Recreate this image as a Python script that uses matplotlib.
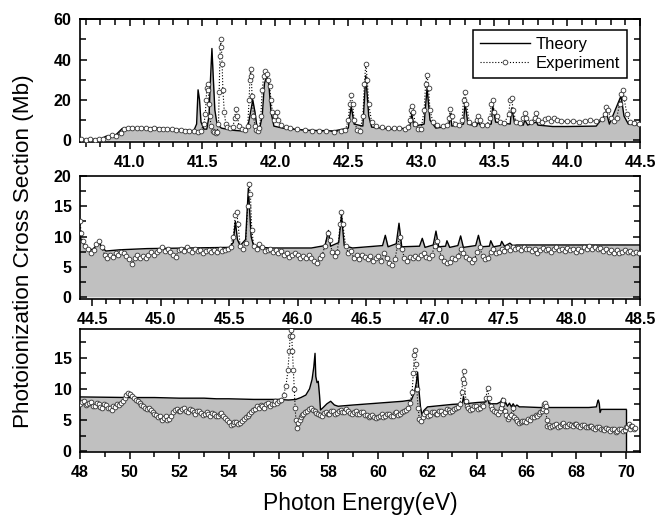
import matplotlib
matplotlib.use("Agg")
import matplotlib.pyplot as plt
from matplotlib.lines import Line2D
from matplotlib.ticker import MultipleLocator

plt.rcParams["font.family"] = ["Liberation Sans", "DejaVu Sans"]

# ---- panel 1: 40.66 - 44.5 eV ----
theory1_e = [40.66, 40.80, 40.84, 40.90, 40.95, 41.00, 41.20, 41.40, 41.44, 41.46, 41.47, 41.48,
             41.49, 41.51, 41.53, 41.545, 41.555, 41.565, 41.575, 41.585, 41.60, 41.63, 41.70,
             41.78, 41.81, 41.83, 41.845, 41.86, 41.875, 41.89, 41.91, 41.925, 41.94, 41.955,
             41.97, 41.99, 42.05, 42.20, 42.40, 42.50, 42.52, 42.54, 42.60, 42.62, 42.64, 42.66,
             42.80, 42.92, 42.935, 42.95, 43.02, 43.04, 43.06, 43.10, 43.19, 43.20, 43.21, 43.29,
             43.30, 43.32, 43.38, 43.39, 43.41, 43.48, 43.49, 43.51, 43.61, 43.62, 43.64, 43.70,
             43.71, 43.73, 43.79, 43.80, 43.90, 44.00, 44.20, 44.27, 44.29, 44.37, 44.39, 44.42,
             44.50]
theory1_v = [0.4, 0.5, 2.0, 2.2, 5.8, 6.3, 6.0, 5.0, 4.6, 8, 25, 20,
             9, 5.5, 5.5, 12, 30, 45.5, 30, 15, 8, 6, 5,
             4.5, 6, 14, 20, 14, 6, 5, 12, 28, 32, 28,
             14, 7, 6, 5, 4.6, 6, 17, 8, 7, 32, 12, 6.5,
             5.5, 6, 13, 7, 8, 26, 10, 6, 7, 13, 7, 8,
             19, 8, 7, 9, 7, 8, 17, 9, 8, 16, 8.5, 7.5,
             10, 7.5, 9, 7.5, 6.8, 6.8, 7.0, 13.5, 8, 22, 12, 8.0,
             7.5]

exp1_e = [40.67, 40.70, 40.73, 40.76, 40.79, 40.82, 40.85, 40.88, 40.91, 40.94, 40.96, 40.99,
          41.02, 41.05, 41.08, 41.11, 41.14, 41.17, 41.20, 41.23, 41.26, 41.29, 41.32, 41.35,
          41.38, 41.41, 41.44, 41.47, 41.49, 41.51, 41.52, 41.525, 41.53, 41.535, 41.54, 41.545,
          41.55, 41.56, 41.57, 41.58, 41.59, 41.60, 41.61, 41.615, 41.62, 41.625, 41.63, 41.635,
          41.64, 41.65, 41.66, 41.67, 41.69, 41.71, 41.72, 41.73, 41.74, 41.75, 41.77, 41.79,
          41.81, 41.82, 41.825, 41.83, 41.835, 41.84, 41.85, 41.86, 41.87, 41.88, 41.89, 41.90,
          41.91, 41.92, 41.93, 41.94, 41.95, 41.96, 41.97, 41.98, 41.99, 42.00, 42.01, 42.02,
          42.04, 42.07, 42.10, 42.15, 42.20, 42.25, 42.30, 42.35, 42.40, 42.45, 42.48, 42.50,
          42.51, 42.52, 42.53, 42.54, 42.56, 42.58, 42.60, 42.61, 42.62, 42.63, 42.64, 42.66,
          42.69, 42.73, 42.77, 42.81, 42.85, 42.89, 42.91, 42.92, 42.93, 42.935, 42.945, 42.96,
          42.98, 43.00, 43.02, 43.03, 43.04, 43.05, 43.06, 43.08, 43.11, 43.15, 43.18, 43.19,
          43.20, 43.21, 43.23, 43.26, 43.28, 43.29, 43.30, 43.31, 43.33, 43.36, 43.38, 43.39,
          43.40, 43.42, 43.45, 43.47, 43.48, 43.49, 43.50, 43.52, 43.54, 43.57, 43.60, 43.61,
          43.62, 43.63, 43.65, 43.68, 43.70, 43.71, 43.72, 43.75, 43.78, 43.79, 43.80, 43.83,
          43.85, 43.87, 43.89, 43.91, 43.93, 43.96, 44.00, 44.04, 44.08, 44.12, 44.16, 44.20,
          44.24, 44.26, 44.27, 44.28, 44.30, 44.32, 44.34, 44.36, 44.37, 44.38, 44.39, 44.41,
          44.43, 44.46, 44.49]
exp1_v = [0.4, 0.3, 0.4, 0.3, 0.4, 0.6, 1.5, 2.5, 2.2, 3.5, 5.5, 6.2,
          6.0, 6.2, 5.9, 6.0, 5.8, 5.9, 5.6, 5.7, 5.4, 5.5, 5.2, 5.0,
          4.8, 4.6, 4.5, 4.2, 4.8, 8, 13, 20, 26, 28, 25, 18,
          12, 7, 4.5, 4, 3.5, 4.2, 8, 24, 42, 50, 46, 38,
          25, 14, 8, 6.5, 6, 6.5, 11, 15.5, 12, 7, 5.5, 5,
          7, 20, 30, 35.5, 32, 22, 12, 7, 5, 4.5, 6, 12,
          25, 32, 34.5, 33, 30, 27, 20, 14, 10, 12, 14, 10,
          7.5, 6.5, 6, 5.5, 5.0, 4.8, 4.6, 4.5, 4.3, 4.5, 5, 10,
          18, 22.5, 18, 10, 5, 4.5, 12, 28, 38, 30, 18, 9,
          7, 6.5, 6.3, 6.2, 6.0, 5.8, 6.5, 10, 15, 17, 14, 8,
          5.5, 5.8, 15, 28, 32.5, 26, 15, 9, 7.5, 7, 7.5, 11,
          15.5, 12, 8, 7.5, 10, 20, 24, 18, 9, 8, 10, 12,
          10, 7.5, 7.5, 11, 18, 20, 14, 12, 9, 8.5, 13, 20,
          21, 15, 9, 8.5, 11, 13.4, 11, 9, 11, 13.5, 10, 9,
          10.5, 11, 9.5, 11, 10, 9.5, 9.3, 9.5, 9.2, 9.6, 9.8, 9.5,
          10.5, 13, 16.5, 15, 11, 9.5, 11, 18, 23, 25, 21, 13,
          9, 8.5, 8]

# ---- panel 2: 44.41 - 48.5 eV ----
theory2_e = [44.41, 44.43, 44.46, 44.50, 44.53, 44.55, 44.57, 44.60, 44.70, 44.90, 45.20, 45.50,
             45.53, 45.545, 45.56, 45.58, 45.62, 45.64, 45.66, 45.68, 45.80, 46.10, 46.20, 46.225,
             46.24, 46.30, 46.32, 46.34, 46.40, 46.62, 46.64, 46.66, 46.72, 46.74, 46.76, 46.89,
             46.91, 46.93, 46.99, 47.01, 47.03, 47.08, 47.09, 47.11, 47.17, 47.19, 47.21, 47.30,
             47.32, 47.34, 47.40, 47.41, 47.43, 47.48, 47.49, 47.51, 47.55, 47.57, 47.60, 48.50]
theory2_v = [10.0, 9.0, 8.2, 7.8, 8.5, 9.0, 8.2, 7.6, 7.8, 8.0, 8.1, 8.2,
             9, 12.5, 9.5, 8.5, 9.5, 18, 10, 8.3, 8.1, 8.1, 8.5, 11,
             8.4, 9, 13.5, 8.5, 8.1, 8.5, 10.2, 8.3, 8.8, 12.2, 8.3, 8.4,
             9.7, 8.2, 8.6, 10.9, 8.3, 8.4, 9.3, 8.2, 8.5, 10.1, 8.2, 8.5,
             10.2, 8.3, 8.4, 9.3, 8.3, 8.5, 9.2, 8.4, 8.9, 8.5, 8.6, 8.6]

exp2_e = [44.41, 44.42, 44.43, 44.45, 44.47, 44.49, 44.51, 44.53, 44.55, 44.57, 44.59, 44.61,
          44.63, 44.65, 44.67, 44.69, 44.71, 44.73, 44.75, 44.77, 44.79, 44.81, 44.83, 44.85,
          44.87, 44.89, 44.91, 44.93, 44.95, 44.97, 44.99, 45.01, 45.03, 45.05, 45.07, 45.09,
          45.11, 45.13, 45.15, 45.17, 45.19, 45.21, 45.23, 45.25, 45.27, 45.29, 45.31, 45.33,
          45.35, 45.37, 45.39, 45.41, 45.43, 45.45, 45.47, 45.49, 45.51, 45.53, 45.545, 45.555,
          45.565, 45.58, 45.60, 45.62, 45.635, 45.645, 45.655, 45.665, 45.68, 45.70, 45.72, 45.74,
          45.76, 45.78, 45.80, 45.82, 45.84, 45.86, 45.88, 45.90, 45.92, 45.94, 45.96, 45.98,
          46.00, 46.02, 46.04, 46.06, 46.08, 46.10, 46.12, 46.14, 46.16, 46.18, 46.20, 46.22,
          46.235, 46.25, 46.27, 46.29, 46.31, 46.32, 46.33, 46.35, 46.37, 46.39, 46.41, 46.43,
          46.45, 46.47, 46.49, 46.51, 46.53, 46.55, 46.57, 46.59, 46.61, 46.63, 46.65, 46.67,
          46.69, 46.71, 46.73, 46.745, 46.76, 46.78, 46.80, 46.82, 46.84, 46.86, 46.88, 46.90,
          46.92, 46.94, 46.96, 46.98, 47.00, 47.015, 47.03, 47.05, 47.07, 47.09, 47.11, 47.13,
          47.15, 47.17, 47.19, 47.21, 47.23, 47.25, 47.27, 47.29, 47.31, 47.33, 47.35, 47.37,
          47.39, 47.41, 47.43, 47.45, 47.47, 47.49, 47.51, 47.53, 47.55, 47.57, 47.59, 47.61,
          47.63, 47.65, 47.67, 47.69, 47.71, 47.73, 47.75, 47.77, 47.79, 47.81, 47.83, 47.85,
          47.87, 47.89, 47.91, 47.93, 47.95, 47.97, 47.99, 48.01, 48.03, 48.05, 48.07, 48.09,
          48.11, 48.13, 48.15, 48.17, 48.19, 48.21, 48.23, 48.25, 48.27, 48.29, 48.31, 48.33,
          48.35, 48.37, 48.39, 48.41, 48.43, 48.45, 48.47, 48.49]
exp2_v = [12.5, 10.5, 9.2, 8.5, 8.0, 7.2, 7.8, 8.8, 9.2, 8.2, 7.0, 6.5,
          7.0, 6.6, 7.2, 7.0, 7.5, 7.2, 6.8, 6.2, 5.5, 6.5, 7.0, 6.5,
          6.8, 6.4, 7.0, 7.4, 7.0, 7.5, 7.8, 8.2, 7.6, 7.9, 7.5, 7.0,
          6.6, 7.8, 8.0, 7.6, 8.2, 7.7, 7.4, 8.0, 7.6, 7.8, 7.3, 7.6,
          7.8, 7.4, 7.7, 7.5, 7.9, 7.6, 7.8, 8.0, 8.3, 10, 13.5, 14,
          12, 8.5, 8.0, 9.0, 15, 18.7, 17, 11, 8.5, 8.0, 8.8, 8.2,
          7.6, 7.8, 8.0, 7.4, 7.7, 7.3, 7.6, 7.0, 7.2, 6.6, 6.9, 7.3,
          7.0, 6.5, 6.8, 6.4, 6.9, 6.5, 6.0, 5.6, 6.5, 7.0, 8.5, 10.5,
          9.5, 7.5, 6.8, 7.5, 12, 14, 12, 8.5, 7.2, 7.6, 6.4, 6.9,
          6.2, 7.0, 6.6, 6.2, 6.8, 6.0, 6.5, 6.8, 6.0, 7.2, 6.5, 5.6,
          5.3, 6.2, 8.5, 10, 8, 6.4, 6.0, 6.6, 6.4, 6.8, 6.5, 7.0,
          7.2, 6.6, 6.5, 7.0, 8.4, 9.2, 8, 6.6, 6.0, 5.6, 5.8, 6.4,
          6.2, 6.7, 8.0, 7.2, 6.6, 6.3, 5.8, 6.2, 7.5, 8.2, 6.8, 6.2,
          6.5, 7.5, 8.0, 7.2, 7.4, 8.0, 7.6, 8.2, 7.8, 8.3, 7.9, 8.1,
          7.7, 8.2, 7.9, 8.0, 7.6, 7.9, 7.3, 7.8, 8.1, 7.7, 8.0, 7.4,
          7.9, 8.2, 7.8, 8.0, 7.6, 8.1, 7.7, 8.0, 7.5, 7.9, 7.6, 8.2,
          7.9, 8.4, 8.0, 8.3, 7.9, 8.1, 7.6, 7.9, 7.5, 7.8, 7.3, 7.7,
          7.2, 7.5, 7.8, 7.4, 7.6, 7.2, 7.5, 7.3]

# ---- panel 3: 48 - 70.5 eV ----
theory3_e = [48.0, 49.0, 50.0, 51.0, 52.0, 53.0, 53.5, 54.0, 55.0, 56.0, 56.4, 56.7,
             56.9, 57.1, 57.25, 57.35, 57.42, 57.47, 57.50, 57.55, 57.60, 57.65, 57.69, 57.8,
             57.95, 58.1, 58.25, 58.4, 59.0, 60.0, 61.0, 61.35, 61.48, 61.55, 61.60, 61.65,
             61.72, 61.78, 61.85, 62.0, 62.5, 63.0, 63.4, 63.45, 63.5, 64.0, 64.35, 64.42,
             64.48, 64.8, 64.95, 65.02, 65.08, 65.15, 65.22, 65.3, 65.38, 65.45, 65.52, 65.6,
             65.7, 65.85, 66.5, 67.5, 68.5, 68.8, 68.85, 68.88, 68.92, 68.95, 69.0, 69.5,
             70.0]
theory3_v = [8.7, 8.65, 8.6, 8.6, 8.5, 8.5, 8.4, 8.4, 8.3, 8.3, 8.2, 8.3,
             8.6, 9.0, 10, 11.5, 13.5, 15.7, 12, 11, 11.2, 9, 6.6, 7.0,
             7.6, 8.0, 7.4, 7.2, 7.4, 7.7, 8.0, 8.2, 9.5, 11, 12.7, 10,
             7, 5.8, 6.5, 7.1, 7.3, 7.5, 7.6, 8.8, 7.6, 7.8, 7.9, 8.6,
             7.6, 7.6, 7.9, 8.5, 7.3, 7.8, 7.2, 7.7, 7.1, 7.6, 7.1, 7.4,
             7.1, 7.1, 7.0, 7.0, 7.0, 7.1, 7.9, 8.2, 7.6, 6.2, 6.7, 6.7,
             6.7]

# (energy, cross section) pairs
exp3_points = [
    (48.00, 7.6), (48.075, 7.9), (48.15, 8.0), (48.225, 7.4), (48.30, 7.5), (48.375, 7.8),
    (48.45, 7.9), (48.525, 7.2), (48.60, 7.3), (48.675, 7.7), (48.75, 7.6), (48.825, 7.1),
    (48.90, 7.0), (48.975, 7.5), (49.05, 7.4), (49.125, 7.0), (49.20, 6.9), (49.275, 6.6),
    (49.35, 7.3), (49.425, 7.1), (49.50, 7.6), (49.575, 7.4), (49.65, 7.8), (49.725, 8.0),
    (49.80, 8.5), (49.875, 9.0), (49.95, 9.3), (50.025, 9.1), (50.10, 8.9), (50.175, 8.5),
    (50.25, 8.2), (50.325, 8.0), (50.40, 7.8), (50.475, 7.4), (50.55, 7.3), (50.625, 7.0),
    (50.70, 6.8), (50.775, 6.9), (50.85, 6.6), (50.925, 6.3), (51.00, 6.0), (51.075, 5.8),
    (51.15, 5.4), (51.225, 5.6), (51.30, 5.0), (51.375, 5.3), (51.45, 5.6), (51.525, 5.0),
    (51.60, 5.1), (51.675, 5.7), (51.75, 6.2), (51.825, 6.6), (51.90, 6.8), (51.975, 6.4),
    (52.05, 6.5), (52.125, 6.8), (52.20, 6.9), (52.275, 6.5), (52.35, 6.3), (52.425, 6.7),
    (52.50, 6.6), (52.575, 6.2), (52.65, 6.0), (52.725, 6.5), (52.80, 6.4), (52.875, 6.1),
    (52.95, 5.8), (53.025, 6.0), (53.10, 6.2), (53.175, 5.9), (53.25, 5.7), (53.325, 6.1),
    (53.40, 6.0), (53.475, 5.7), (53.55, 5.6), (53.625, 5.9), (53.70, 6.1), (53.775, 5.6),
    (53.85, 5.3), (53.925, 5.0), (54.00, 4.6), (54.075, 4.2), (54.15, 4.3), (54.225, 4.7),
    (54.30, 4.6), (54.375, 4.3), (54.45, 4.5), (54.525, 4.9), (54.60, 5.2), (54.675, 5.4),
    (54.75, 5.6), (54.825, 5.9), (54.90, 6.2), (54.975, 6.6), (55.05, 6.8), (55.125, 7.2),
    (55.20, 7.0), (55.275, 7.4), (55.35, 7.3), (55.425, 7.0), (55.50, 7.5), (55.575, 7.7),
    (55.65, 7.2), (55.725, 7.5), (55.80, 7.6), (55.875, 8.0), (55.95, 7.8), (56.025, 8.1),
    (56.10, 8.2), (56.20, 9.0), (56.30, 10.5), (56.38, 13.0), (56.43, 16.0), (56.47, 18.5),
    (56.50, 19.5), (56.53, 18.5), (56.56, 16.0), (56.60, 13.0), (56.63, 10.0), (56.67, 7.0),
    (56.70, 5.0), (56.74, 3.7), (56.80, 4.5), (56.85, 5.0), (56.90, 5.5), (56.95, 5.8),
    (57.00, 6.0), (57.075, 6.3), (57.15, 6.5), (57.225, 6.8), (57.30, 6.9), (57.375, 6.6),
    (57.45, 6.4), (57.525, 6.1), (57.60, 6.0), (57.675, 5.8), (57.75, 5.7), (57.825, 6.1),
    (57.90, 6.3), (57.975, 5.9), (58.05, 6.0), (58.125, 6.4), (58.20, 6.5), (58.275, 6.0),
    (58.35, 6.1), (58.425, 6.5), (58.50, 6.6), (58.575, 6.3), (58.65, 6.2), (58.725, 6.7),
    (58.80, 6.5), (58.875, 6.1), (58.95, 6.0), (59.025, 6.3), (59.10, 6.4), (59.175, 6.0),
    (59.25, 5.9), (59.325, 6.3), (59.40, 6.2), (59.475, 5.8), (59.55, 5.8), (59.625, 5.5),
    (59.70, 5.6), (59.775, 5.8), (59.85, 5.4), (59.925, 5.3), (60.00, 5.5), (60.075, 5.7),
    (60.15, 5.9), (60.225, 5.5), (60.30, 5.6), (60.375, 6.0), (60.45, 6.0), (60.525, 5.6),
    (60.60, 5.7), (60.675, 6.1), (60.75, 6.2), (60.825, 5.8), (60.90, 6.0), (60.975, 6.3),
    (61.05, 6.5), (61.125, 6.6), (61.20, 7.0), (61.30, 7.8), (61.38, 9.5), (61.43, 12.5),
    (61.47, 15.5), (61.50, 16.3), (61.53, 14.0), (61.57, 10.0), (61.62, 7.0), (61.67, 5.2),
    (61.72, 4.8), (61.80, 5.5), (61.875, 5.9), (61.95, 6.2), (62.025, 5.7), (62.10, 5.8),
    (62.175, 6.2), (62.25, 6.3), (62.325, 5.9), (62.40, 6.0), (62.475, 6.5), (62.55, 6.4),
    (62.625, 6.0), (62.70, 6.2), (62.775, 6.7), (62.85, 6.6), (62.925, 6.2), (63.00, 6.4),
    (63.075, 6.8), (63.15, 6.9), (63.225, 7.1), (63.30, 7.5), (63.38, 9.5), (63.42, 11.5),
    (63.45, 12.8), (63.49, 11.0), (63.55, 8.0), (63.60, 7.2), (63.65, 7.0), (63.725, 6.6),
    (63.80, 6.8), (63.875, 7.3), (63.95, 7.2), (64.025, 6.8), (64.10, 7.0), (64.175, 7.4),
    (64.25, 7.3), (64.35, 8.5), (64.42, 10.1), (64.48, 8.5), (64.54, 7.2), (64.60, 6.8),
    (64.675, 6.4), (64.75, 6.2), (64.825, 6.0), (64.90, 6.5), (64.95, 7.0), (65.00, 7.5),
    (65.05, 8.2), (65.12, 6.5), (65.18, 5.8), (65.25, 5.2), (65.30, 5.5), (65.35, 5.8),
    (65.43, 7.0), (65.50, 5.5), (65.55, 5.1), (65.60, 4.9), (65.675, 4.5), (65.75, 4.6),
    (65.825, 4.9), (65.90, 4.8), (65.975, 4.7), (66.05, 5.2), (66.125, 5.0), (66.20, 5.5),
    (66.275, 5.4), (66.35, 5.8), (66.425, 5.6), (66.50, 6.0), (66.55, 6.2), (66.60, 6.4),
    (66.64, 6.8), (66.68, 7.2), (66.71, 7.5), (66.74, 7.7), (66.76, 7.3), (66.78, 6.5),
    (66.80, 5.0), (66.82, 4.0), (66.875, 4.2), (66.95, 3.8), (67.025, 4.0), (67.10, 4.2),
    (67.175, 4.4), (67.25, 3.9), (67.325, 4.1), (67.40, 4.3), (67.475, 4.5), (67.55, 4.1),
    (67.625, 4.0), (67.70, 4.4), (67.775, 4.2), (67.85, 4.0), (67.925, 4.4), (68.00, 4.3),
    (68.075, 4.1), (68.15, 3.9), (68.225, 4.2), (68.30, 4.2), (68.375, 3.9), (68.45, 3.8),
    (68.525, 4.1), (68.60, 4.0), (68.675, 3.7), (68.75, 3.6), (68.825, 3.9), (68.90, 3.9),
    (68.975, 3.6), (69.05, 3.5), (69.125, 3.4), (69.20, 3.7), (69.275, 3.5), (69.35, 3.3),
    (69.425, 3.6), (69.50, 3.5), (69.575, 3.1), (69.65, 3.2), (69.725, 3.5), (69.80, 3.6),
    (69.875, 3.3), (69.95, 3.4), (70.00, 3.8), (70.05, 3.9), (70.10, 4.3), (70.15, 3.6),
    (70.20, 4.1), (70.25, 4.0), (70.30, 3.5), (70.35, 3.7),
]
exp3_e = [p[0] for p in exp3_points]
exp3_v = [p[1] for p in exp3_points]

FILL = "#c0c0c0"


def draw_spectrum(ax, theory_e, theory_v, exp_e, exp_v, drop_end=False):
    ax.fill_between(theory_e, 0, theory_v, color=FILL, lw=0, zorder=1)
    ax.plot(theory_e, theory_v, color="black", lw=1.0, zorder=2)
    if drop_end:
        ax.vlines(theory_e[-1], 0, theory_v[-1], color="black", lw=1.0, zorder=2)
    ax.plot(exp_e, exp_v, ls=":", color="black", lw=0.8, marker="o", ms=3.4,
            mfc="white", mec="#333333", mew=0.6, zorder=3)


def style_axis(ax, xlim, ylim, xmaj, xmin, ymaj, ymin, yticks, top_ticks=False):
    ax.set_xlim(*xlim)
    ax.set_ylim(*ylim)
    ax.xaxis.set_major_locator(MultipleLocator(xmaj))
    ax.xaxis.set_minor_locator(MultipleLocator(xmin))
    ax.yaxis.set_major_locator(MultipleLocator(ymaj))
    ax.yaxis.set_minor_locator(MultipleLocator(ymin))
    ax.set_yticks(yticks)
    for s in ax.spines.values():
        s.set_linewidth(1.2)
    ax.tick_params(axis="x", which="both", direction="out", top=False, width=1.1,
                   labelsize=11.5, pad=4)
    ax.tick_params(axis="x", which="major", length=5)
    ax.tick_params(axis="x", which="minor", length=3.5)
    ax.tick_params(axis="y", which="both", direction="in", left=True, right=True,
                   width=1.1, labelsize=11.5, pad=6)
    ax.tick_params(axis="y", which="major", length=5)
    ax.tick_params(axis="y", which="minor", length=4)
    if top_ticks:
        sec = ax.secondary_xaxis("top")
        sec.xaxis.set_major_locator(MultipleLocator(xmaj))
        sec.xaxis.set_minor_locator(MultipleLocator(xmin))
        sec.tick_params(which="both", direction="in", labeltop=False, width=1.1)
        sec.tick_params(which="major", length=5)
        sec.tick_params(which="minor", length=4)
        sec.spines["top"].set_linewidth(1.2)


fig = plt.figure(figsize=(6.66, 5.21), dpi=100)
ax1 = fig.add_axes([0.120, 0.727, 0.841, 0.236])
ax2 = fig.add_axes([0.120, 0.426, 0.841, 0.236])
ax3 = fig.add_axes([0.120, 0.1324, 0.841, 0.236])

draw_spectrum(ax1, theory1_e, theory1_v, exp1_e, exp1_v)
draw_spectrum(ax2, theory2_e, theory2_v, exp2_e, exp2_v)
draw_spectrum(ax3, theory3_e, theory3_v, exp3_e, exp3_v, drop_end=True)

style_axis(ax1, (40.66, 44.5), (-1, 60), 0.5, 0.1, 20, 10, [0, 20, 40, 60], top_ticks=True)
style_axis(ax2, (44.41, 48.5), (-0.35, 20), 0.5, 0.1, 5, 2.5, [0, 5, 10, 15, 20])
style_axis(ax3, (48, 70.56), (-0.15, 19.6), 2, 1, 5, 2.5, [0, 5, 10, 15])
for ax in (ax1, ax2, ax3):
    for lab in ax.get_xticklabels() + ax.get_yticklabels():
        lab.set_fontweight("bold")

handles = [
    Line2D([], [], color="black", lw=1.0),
    Line2D([], [], ls=":", color="black", lw=0.8, marker="o", ms=3.4,
           mfc="white", mec="#333333", mew=0.6),
]
leg = ax1.legend(handles, ["Theory", "Experiment"], loc="upper right",
                 bbox_to_anchor=(0.977, 0.915), fontsize=12, numpoints=1,
                 handlelength=3.0, handletextpad=0.3, borderpad=0.45,
                 labelspacing=0.2, borderaxespad=0, fancybox=False, framealpha=1,
                 edgecolor="black")
leg.get_frame().set_linewidth(1.1)

fig.text(0.036, 0.517, "Photoionization Cross Section (Mb)", rotation=90,
         ha="center", va="center", fontsize=16.2)
fig.text(0.541, 0.033, "Photon Energy(eV)", ha="center", va="center", fontsize=16.5)

fig.savefig("out.png", dpi=100)
